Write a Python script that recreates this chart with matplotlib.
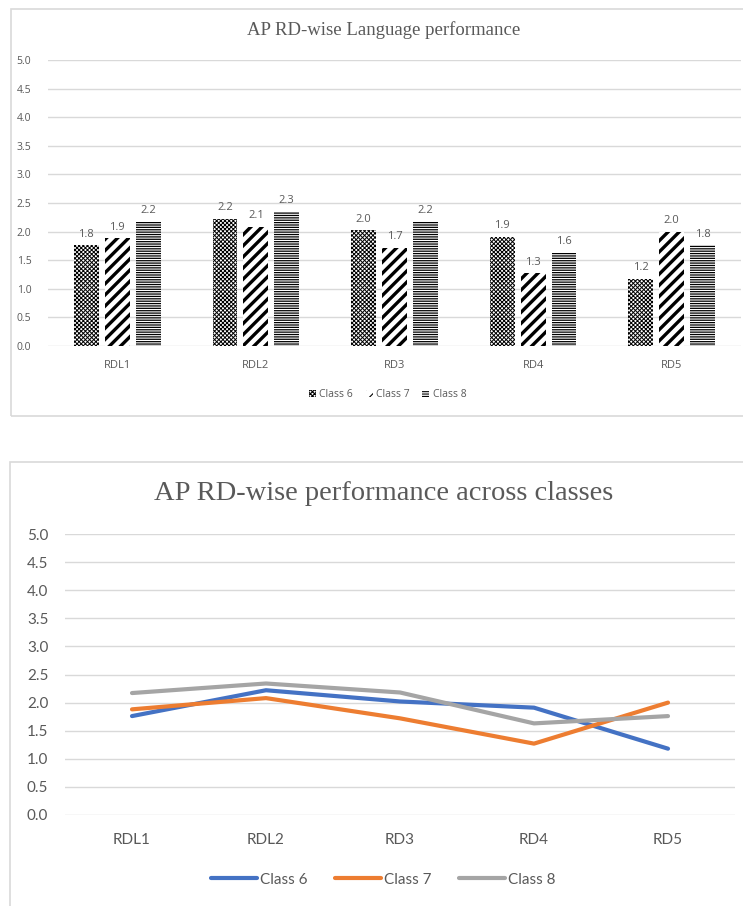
import matplotlib.pyplot as plt
import numpy as np
from matplotlib.patches import Rectangle

categories = ["RDL1", "RDL2", "RD3", "RD4", "RD5"]
class6 = [1.76, 2.22, 2.02, 1.91, 1.18]
class7 = [1.88, 2.08, 1.72, 1.27, 2.00]
class8 = [2.17, 2.34, 2.18, 1.63, 1.76]
series_names = ["Class 6", "Class 7", "Class 8"]
yticks = [0.0, 0.5, 1.0, 1.5, 2.0, 2.5, 3.0, 3.5, 4.0, 4.5, 5.0]

W, H = 743, 906
txt = "#595959"
grid = "#d9d9d9"
sans = ["Lato", "DejaVu Sans"]
narrow = ["Liberation Sans Narrow", "Open Sans", "DejaVu Sans"]
serif = ["Liberation Serif", "DejaVu Serif"]

fig = plt.figure(figsize=(W / 100, H / 100), dpi=100)

def box(x0, y0, x1, y1):
    # panel frame in pixel coords (y from top)
    fig.patches.append(Rectangle((x0 / W, 1 - y1 / H), (x1 - x0) / W, (y1 - y0) / H,
                                 transform=fig.transFigure, fill=False,
                                 edgecolor=grid, linewidth=1.2))

def axes_px(x0, y0, x1, y1):
    return fig.add_axes([x0 / W, 1 - y1 / H, (x1 - x0) / W, (y1 - y0) / H])

box(11, 9, 760, 416)
box(10, 462, 760, 930)

# ---------- top: hatched bar chart ----------
ax1 = axes_px(48, 60, 741, 346)
x = np.arange(len(categories))
step, bw = 0.223, 0.18
hatches = ["xxxxxxxx", "///", "-------"]
hlw = [0.7, 2.4, 0.9]
for i, (vals, name) in enumerate(zip([class6, class7, class8], series_names)):
    plt.rcParams["hatch.linewidth"] = hlw[i]
    bars = ax1.bar(x + (i - 1) * step, vals, bw, facecolor="white",
                   edgecolor="black", hatch=hatches[i], linewidth=0, label=name, zorder=3)
    for b, v in zip(bars, vals):
        ax1.text(b.get_x() + b.get_width() / 2, v + 0.1, f"{v:.1f}", ha="center",
                 va="bottom", fontsize=8, color=txt, family=narrow)

ax1.set_xlim(-0.5, len(categories) - 0.5)
ax1.set_ylim(0, 5)
ax1.set_yticks(yticks)
ax1.set_yticklabels([f"{t:.1f}" for t in yticks], fontsize=7.5, color=txt, family=narrow)
ax1.set_xticks(x)
ax1.set_xticklabels(categories, fontsize=8, color=txt, family=narrow)
ax1.tick_params(length=0, pad=12)
ax1.tick_params(axis="x", pad=10)
ax1.grid(axis="y", color=grid, linewidth=1, zorder=0)
for s in ax1.spines.values():
    s.set_visible(False)
fig.text(384 / W, 1 - 30 / H, "AP RD-wise Language performance", fontsize=13.5,
         color=txt, family=serif, ha="center", va="center")
plt.rcParams["hatch.linewidth"] = 0.8
ax1.legend(loc="center", bbox_to_anchor=(0.49, -0.17), ncol=3, frameon=False,
           labelcolor=txt, handlelength=0.7, handleheight=0.7,
           handletextpad=0.3, columnspacing=1.2, prop={"family": narrow, "size": 7.5})

# ---------- bottom: line chart ----------
ax2 = axes_px(65, 534, 735, 815)
colors = ["#4472C4", "#ED7D31", "#A5A5A5"]
for vals, name, c in zip([class6, class7, class8], series_names, colors):
    ax2.plot(x, vals, color=c, linewidth=3, label=name, zorder=3, solid_capstyle="round")

ax2.set_xlim(-0.5, len(categories) - 0.5)
ax2.set_ylim(0, 5)
ax2.set_yticks(yticks)
ax2.set_yticklabels([f"{t:.1f}" for t in yticks], fontsize=11, color=txt, family=sans)
ax2.set_xticks(x)
ax2.set_xticklabels(categories, fontsize=11, color=txt, family=sans)
ax2.tick_params(length=0, pad=12)
ax2.tick_params(axis="x", pad=13)
ax2.grid(axis="y", color=grid, linewidth=1, zorder=0)
for s in ax2.spines.values():
    s.set_visible(False)
fig.text(384 / W, 1 - 493 / H, "AP RD-wise performance across classes", fontsize=20.5,
         color=txt, family=serif, ha="center", va="center")
ax2.legend(loc="center", bbox_to_anchor=(0.475, -0.23), ncol=3, frameon=False,
           labelcolor=txt, handlelength=3, handletextpad=0.2, columnspacing=1.8,
           prop={"family": sans, "size": 11})

fig.savefig("out.png", dpi=100)
